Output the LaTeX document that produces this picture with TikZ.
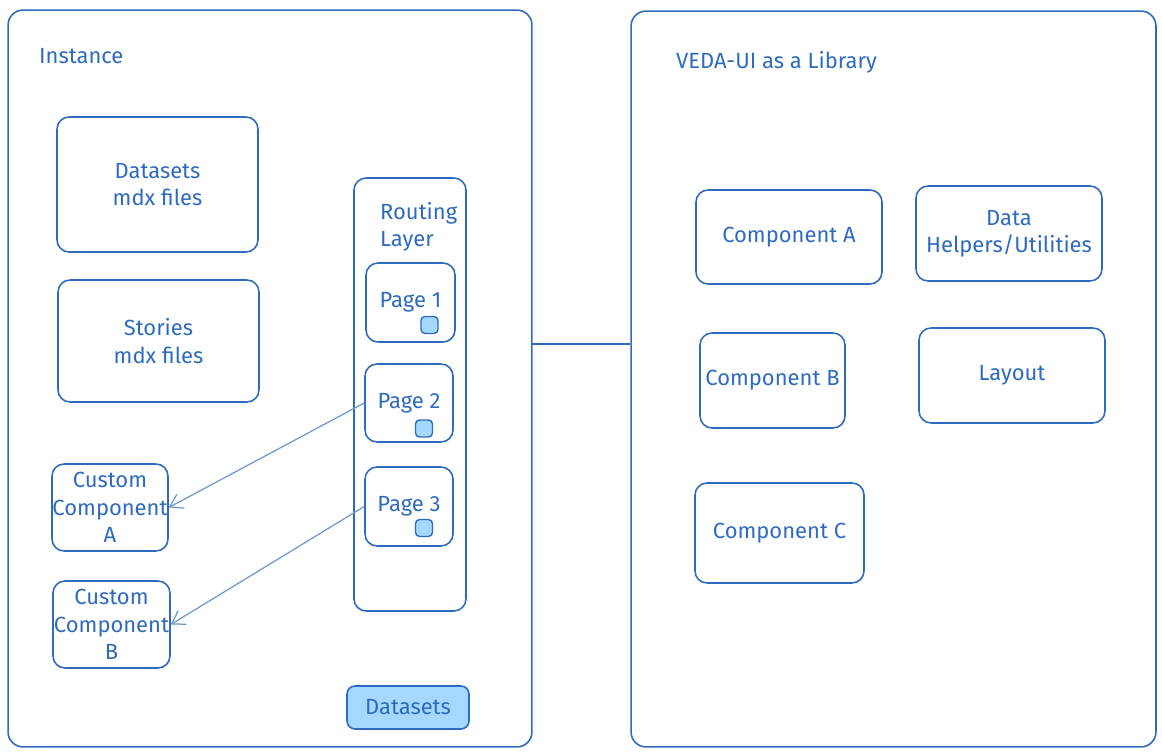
\documentclass[tikz,border=0pt]{standalone}
\usepackage{fontspec}
\setmainfont{Fira Sans}
\usepackage{tikz}
\usetikzlibrary{arrows.meta, positioning, calc}
\definecolor{netve}{HTML}{2E6BBE}
\definecolor{nennhat}{HTML}{A5D8FF}

\begin{document}
\begin{tikzpicture}[x=0.02cm, y=-0.02cm,
            every node/.style={font=\fontsize{12.5}{15.5}\selectfont, text=netve},
            khung/.style={draw=netve, line width=0.9pt, rounded corners=0.3cm, inner sep=0pt},
            hop/.style={draw=netve, line width=0.9pt, rounded corners=0.24cm, align=center, inner sep=0pt},
            nut/.style={draw=netve, fill=nennhat, line width=0.8pt, rounded corners=0.08cm, minimum size=0.34cm, inner sep=0pt},
            muiten/.style={draw=netve!70, line width=0.7pt, -{Straight Barb[length=7pt, width=9pt]}}]

            \useasboundingbox (0,0) rectangle (1162,756);

            % Vẽ hai khung lớn
            \node[khung, minimum width=10.48cm, minimum height=14.74cm] (inst) at (270,378.5) {};
            \node[khung, minimum width=10.5cm, minimum height=14.72cm] (lib) at (893.5,379) {};
            \node[anchor=west] (instlbl) at (33,56) {Instance};
            \node[anchor=west] (liblbl) at (670,62) {VEDA-UI as a Library};

            % Đường nối hai khung
            \coordinate (noi) at (532,344);
            \draw[draw=netve, line width=0.9pt] (noi) -- (noi -| lib.west);

            % Các hộp bên trái
            \node[hop, minimum width=4.02cm, minimum height=2.7cm] (dsmdx) at (157.5,184.5) {Datasets\\mdx files};
            \node[hop, minimum width=4.02cm, minimum height=2.44cm] (stmdx) at (158.5,341) {Stories\\mdx files};
            \node[hop, minimum width=2.32cm, minimum height=1.74cm] (custa) at (110,507.5) {Custom\\Component\\A};
            \node[hop, minimum width=2.34cm, minimum height=1.74cm] (custb) at (111.5,624.5) {Custom\\Component\\B};

            % Lớp định tuyến và các trang
            \node[hop, minimum width=2.24cm, minimum height=8.66cm] (route) at (410,394.5) {};
            \node[anchor=north west, align=left] (routelbl) at (374,196) {Routing\\Layer};
            \node[hop, minimum width=1.78cm, minimum height=1.58cm] (page1) at (410.5,302.5) {Page 1};
            \node[hop, minimum width=1.76cm, minimum height=1.56cm] (page2) at (409,403) {Page 2};
            \node[hop, minimum width=1.76cm, minimum height=1.58cm] (page3) at (409,506.5) {Page 3};
            \node[nut] (nut1) at (429.5,325) {};
            \node[nut] (nut2) at (424,428.5) {};
            \node[nut] (nut3) at (424,528) {};
            \node[hop, fill=nennhat, rounded corners=0.16cm, minimum width=2.44cm, minimum height=0.86cm] (dsbtn) at (408,707.5) {Datasets};

            % Mũi tên từ trang tới thành phần
            \draw[muiten] (page2.west) -- (custa.east);
            \draw[muiten] (page3.west) -- (custb.east);

            % Các hộp bên phải
            \node[hop, minimum width=3.72cm, minimum height=1.88cm] (compa) at (789,237) {Component A};
            \node[hop, minimum width=3.72cm, minimum height=1.9cm] (helper) at (1009,233.5) {Data\\Helpers/Utilities};
            \node[hop, minimum width=2.9cm, minimum height=1.9cm] (compb) at (772.5,380.5) {Component B};
            \node[hop, minimum width=3.72cm, minimum height=1.9cm] (layout) at (1012,375.5) {Layout};
            \node[hop, minimum width=3.38cm, minimum height=2.0cm] (compc) at (779.5,533) {Component C};

            \end{tikzpicture}
\end{document}
